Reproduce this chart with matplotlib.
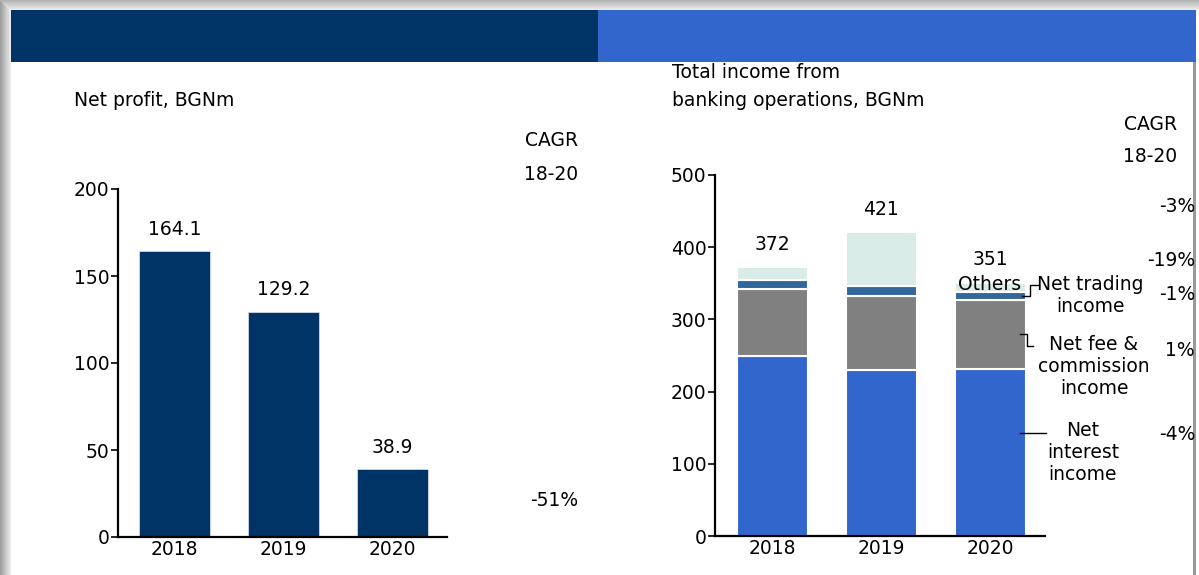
import matplotlib.pyplot as plt
from matplotlib.patches import Rectangle
from matplotlib.lines import Line2D

W, H = 1199, 575

years = ["2018", "2019", "2020"]
net_profit = [164.1, 129.2, 38.9]
profit_cagr = "-51%"

segments = ["Net\ninterest\nincome", "Net fee &\ncommission\nincome",
            "Net trading\nincome", "Others"]
net_interest = [250, 230, 231]
net_fee = [92, 102, 96]
net_trading = [12, 14, 11]
others = [18, 75, 13]
income_totals = [372, 421, 351]
income_cagr = ["-3%", "-19%", "-1%", "1%", "-4%"]

NAVY = "#003366"
BLUE = "#3366cc"
GREY = "#808080"
STEEL = "#336699"
MINT = "#d9ece7"

plt.rcParams["font.family"] = ["DejaVu Sans"]
FS = 13.5

fig = plt.figure(figsize=(W / 100, H / 100), dpi=100)
fig.patch.set_facecolor("white")


def px(x, y):
    return x / W, 1 - y / H


def rect(x0, y0, x1, y1, color):
    fig.add_artist(Rectangle(px(x0, y1), (x1 - x0) / W, (y1 - y0) / H,
                             transform=fig.transFigure, facecolor=color,
                             edgecolor="none", zorder=0))


def ftext(x, y, s, **kw):
    fig.text(*px(x, y), s, fontsize=kw.pop("fontsize", FS), **kw)


# page shadow and header bands
for i in range(11):
    g = 0.62 + 0.03 * i
    rect(i, 0, i + 1, H, (g, g, g))
for i in range(10):
    g = 0.70 + 0.025 * i
    rect(i, i, W, i + 1, (g, g, g))
rect(1193, 10, 1196, H, "#999999")
rect(11, 10, 598, 62, NAVY)
rect(598, 10, 1196, 62, BLUE)


def make_axes(x0, x1, ytop, ybot):
    ax = fig.add_axes([x0 / W, 1 - ybot / H, (x1 - x0) / W, (ybot - ytop) / H])
    ax.set_facecolor("none")
    for s in ["top", "right"]:
        ax.spines[s].set_visible(False)
    for s in ["left", "bottom"]:
        ax.spines[s].set_linewidth(1.6)
    ax.tick_params(axis="y", direction="out", length=5, width=1.2, labelsize=FS, pad=1)
    ax.tick_params(axis="x", length=0, labelsize=FS, pad=2)
    return ax


# left chart: net profit
ax1 = make_axes(118, 447, 189, 537)
xs = range(len(years))
ax1.bar(xs, net_profit, width=0.65, color=NAVY, edgecolor="#d0d8e8", linewidth=0.6)
for x, v in zip(xs, net_profit):
    ax1.annotate(f"{v:.1f}", (x, v), xytext=(0, 16), textcoords="offset points",
                 ha="center", va="center", fontsize=FS)
ax1.set_xlim(-0.52, 2.5)
ax1.set_ylim(0, 200)
ax1.set_yticks([0, 50, 100, 150, 200])
ax1.set_xticks(list(xs), years)

ftext(74, 100, "Net profit, BGNm", va="center")
ftext(578, 140, "CAGR", ha="right", va="center")
ftext(578, 175, "18-20", ha="right", va="center")
ftext(578, 500, profit_cagr, ha="right", va="center")

# right chart: total income
ax2 = make_axes(715, 1045, 175, 536)
bottom = [0, 0, 0]
colors = [BLUE, GREY, STEEL, MINT]
for vals, c in zip([net_interest, net_fee, net_trading, others], colors):
    ax2.bar(xs, vals, bottom=bottom, width=0.65, color=c, edgecolor="white", linewidth=1.5)
    bottom = [b + v for b, v in zip(bottom, vals)]
for x, t in zip(xs, income_totals):
    ax2.annotate(f"{t}", (x, bottom[x]), xytext=(0, 16.5), textcoords="offset points",
                 ha="center", va="center", fontsize=FS)
ax2.set_xlim(-0.523, 2.5)
ax2.set_ylim(0, 500)
ax2.set_yticks([0, 100, 200, 300, 400, 500])
ax2.set_xticks(list(xs), years)

ftext(672, 72, "Total income from", va="center")
ftext(672, 100, "banking operations, BGNm", va="center")
ftext(1177, 125, "CAGR", ha="right", va="center")
ftext(1177, 156, "18-20", ha="right", va="center")
for y, s in zip([207, 261, 295, 350, 435], income_cagr):
    ftext(1195, y, s, ha="right", va="center")

# segment labels and leader lines
ftext(990, 285, segments[3], ha="center", va="center")
ftext(1090, 296, segments[2], ha="center", va="center", linespacing=1.2)
ftext(1094, 366, segments[1], ha="center", va="center", linespacing=1.2)
ftext(1083, 453, segments[0], ha="center", va="center", linespacing=1.2)


def leader(pts):
    lx, ly = zip(*[px(x, y) for x, y in pts])
    fig.add_artist(Line2D(lx, ly, transform=fig.transFigure, color="black", lw=1.0))


leader([(1022, 296), (1030, 296), (1030, 285), (1038, 285)])
leader([(1020, 334), (1027, 334), (1027, 346), (1033, 346)])
leader([(1020, 433), (1046, 433)])

fig.savefig("out.png", dpi=100)
